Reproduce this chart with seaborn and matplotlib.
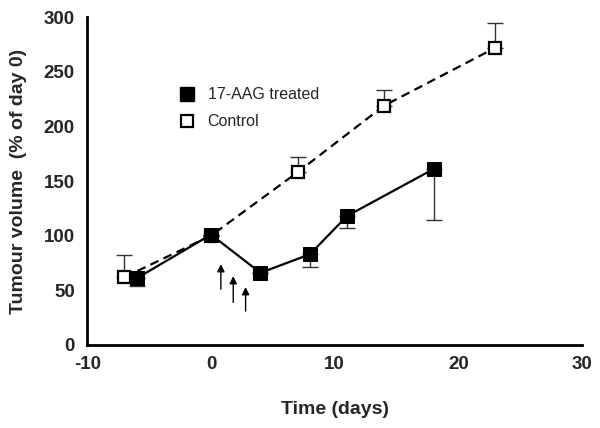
import pandas as pd
import numpy as np
import matplotlib
matplotlib.use('Agg')
import matplotlib.pyplot as plt
import seaborn as sns
from matplotlib.lines import Line2D

# data
treated_days = [-6, 0, 4, 8, 11, 18]
treated_vol = [61, 101, 66, 83, 118, 161]
treated_err = [7, 0, 0, 12, 11, 47]   # lower error only

control_days = [-7, 0, 7, 14, 23]
control_vol = [62, 100, 158, 219, 272]
control_err = [20, 0, 14, 14, 23]     # upper error only

# dosing arrows (day, tail, head)
arrow_days = [0.8, 1.8, 2.8]
arrow_tail = [51, 39, 31]
arrow_head = [74, 63, 53]

sns.set_style('white')
plt.rcParams['font.family'] = ['Liberation Sans', 'DejaVu Sans']
plt.rcParams['axes.unicode_minus'] = False

treated = pd.DataFrame({'day': treated_days, 'vol': treated_vol})
control = pd.DataFrame({'day': control_days, 'vol': control_vol})

fig = plt.figure(figsize=(6, 4.28), dpi=100)
ax = fig.add_axes([0.1455, 0.194, 0.8245, 0.766])

# error bars first so markers sit on top
ax.errorbar(control_days, control_vol,
            yerr=[np.zeros(len(control_err)), control_err],
            fmt='none', ecolor='#333333', elinewidth=1, capsize=6, capthick=1, zorder=1)
ax.errorbar(treated_days, treated_vol,
            yerr=[treated_err, np.zeros(len(treated_err))],
            fmt='none', ecolor='#333333', elinewidth=1, capsize=6, capthick=1, zorder=1)

sns.lineplot(data=control, x='day', y='vol', ax=ax, color='black',
             linestyle=(0, (4, 2.5)), linewidth=1.6, marker='s', markersize=9,
             markerfacecolor='white', markeredgecolor='black', markeredgewidth=1.6,
             zorder=3)
sns.lineplot(data=treated, x='day', y='vol', ax=ax, color='black',
             linewidth=1.6, marker='s', markersize=10,
             markerfacecolor='black', markeredgecolor='black', zorder=4)

for d, t, h in zip(arrow_days, arrow_tail, arrow_head):
    ax.annotate('', xy=(d, h), xytext=(d, t),
                arrowprops=dict(arrowstyle='-|>', color='black', lw=1,
                                mutation_scale=11, shrinkA=0, shrinkB=0))

ax.set_xlim(-10, 30)
ax.set_ylim(0, 300)
ax.set_xticks([-10, 0, 10, 20, 30])
ax.set_yticks([0, 50, 100, 150, 200, 250, 300])
ax.tick_params(axis='x', direction='in', length=4, width=1.5, labelsize=13.5, pad=8)
ax.tick_params(axis='y', direction='out', length=0, labelsize=13.5, pad=9)
for lab in ax.get_xticklabels() + ax.get_yticklabels():
    lab.set_fontweight('bold')

ax.set_xlabel('Time (days)', fontsize=14, fontweight='bold', labelpad=20)
ax.set_ylabel('Tumour volume  (% of day 0)', fontsize=14, fontweight='bold', labelpad=12)

sns.despine(ax=ax)
for s in ['left', 'bottom']:
    ax.spines[s].set_linewidth(2)
    ax.spines[s].set_color('black')

handles = [Line2D([], [], linestyle='none', marker='s', markersize=10,
                  markerfacecolor='black', markeredgecolor='black'),
           Line2D([], [], linestyle='none', marker='s', markersize=9,
                  markerfacecolor='white', markeredgecolor='black', markeredgewidth=1.6)]
ax.legend(handles, ['17-AAG treated', 'Control'], loc='upper left',
          bbox_to_anchor=(0.14, 0.83), frameon=False, fontsize=11.5,
          handletextpad=0.3, labelspacing=0.75)

fig.savefig('out.png', dpi=100)
